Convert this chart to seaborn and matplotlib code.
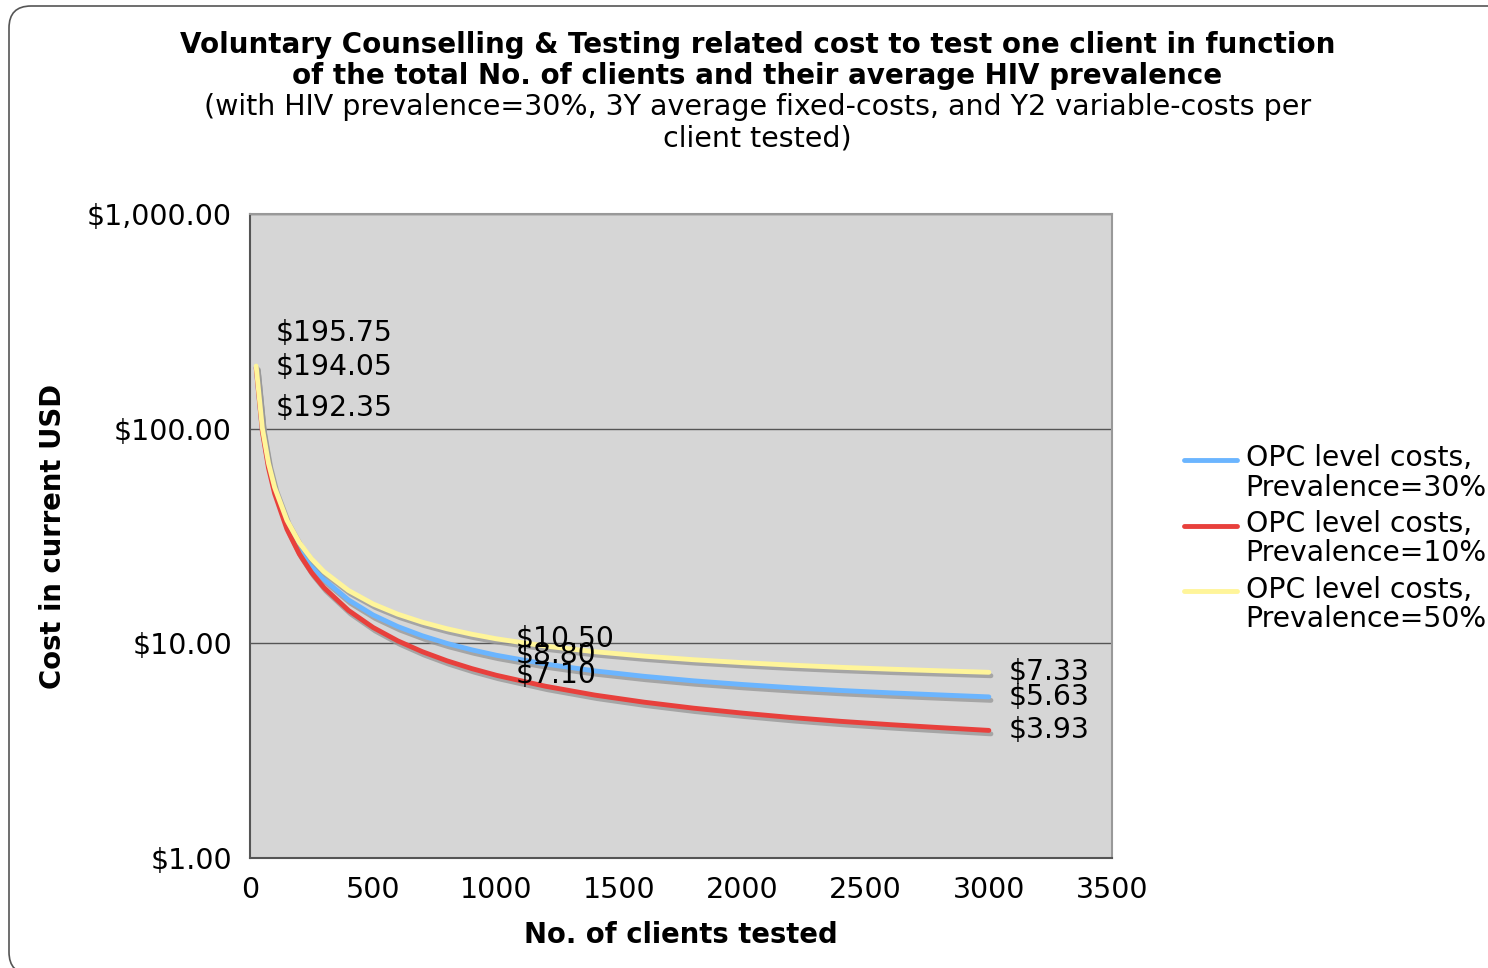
import numpy as np
import pandas as pd
import seaborn as sns
import matplotlib.pyplot as plt
import matplotlib.patheffects as pe
from matplotlib.patches import FancyBboxPatch
from matplotlib.transforms import IdentityTransform, Affine2D

# No. of clients tested
clients = [25, 50, 75, 100, 150, 200, 250, 300, 400, 500, 600, 700, 800, 900, 1000,
           1200, 1400, 1600, 1800, 2000, 2200, 2400, 2600, 2800, 3000]

# cost per client tested (USD)
cost_prev30 = [194.05, 99.05, 67.38, 51.55, 35.72, 27.80, 23.05, 19.88, 15.93, 13.55, 11.97, 10.84,
               9.99, 9.33, 8.80, 8.01, 7.44, 7.02, 6.69, 6.43, 6.21, 6.03, 5.88, 5.75, 5.63]
cost_prev10 = [192.35, 97.35, 65.68, 49.85, 34.02, 26.10, 21.35, 18.18, 14.23, 11.85, 10.27, 9.14,
               8.29, 7.63, 7.10, 6.31, 5.74, 5.32, 4.99, 4.73, 4.51, 4.33, 4.18, 4.05, 3.93]
cost_prev50 = [195.75, 100.75, 69.08, 53.25, 37.42, 29.50, 24.75, 21.58, 17.63, 15.25, 13.67, 12.54,
               11.69, 11.03, 10.50, 9.71, 9.14, 8.72, 8.39, 8.13, 7.91, 7.73, 7.58, 7.45, 7.33]

series_names = ['OPC level costs,\nPrevalence=30%', 'OPC level costs,\nPrevalence=10%',
                'OPC level costs,\nPrevalence=50%']
series_colors = ['#6BB5FF', '#E8403C', '#FFF59A']

df = pd.DataFrame({
    'clients': clients * 3,
    'cost': cost_prev30 + cost_prev10 + cost_prev50,
    'series': [series_names[0]] * len(clients) + [series_names[1]] * len(clients) + [series_names[2]] * len(clients),
})

sns.set_style('white')
plt.rcParams['font.family'] = ['DejaVu Sans']
plt.rcParams['text.color'] = 'black'
plt.rcParams['axes.labelcolor'] = 'black'
plt.rcParams['xtick.labelcolor'] = 'black'
plt.rcParams['ytick.labelcolor'] = 'black'

fig = plt.figure(figsize=(14.88, 9.68), dpi=100)
ax = fig.add_axes([250 / 1488, 1 - 858 / 968, 862 / 1488, 644 / 968])

# rounded frame around the whole slide (pixel coords, runs off right and bottom)
frame = FancyBboxPatch((9, -6), 1520, 968, boxstyle='round,pad=0,rounding_size=22',
                       transform=IdentityTransform(), facecolor='none', edgecolor='#555555',
                       linewidth=1.2, clip_on=False)
fig.patches.append(frame)

sns.lineplot(data=df, x='clients', y='cost', hue='series', palette=series_colors,
             linewidth=3.5, ax=ax, legend=True)
for line in ax.get_lines():
    line.set_path_effects([pe.SimpleLineShadow(offset=(1.5, -2.5), shadow_color='#999999', alpha=0.8),
                           pe.Normal()])

ax.set_yscale('log')
ax.set_ylim(1, 1000)
ax.set_xlim(0, 3500)
ax.set_facecolor('#D6D6D6')
ax.set_xticks(np.arange(0, 3501, 500))
ax.set_yticks([1, 10, 100, 1000])
ax.set_yticklabels(['$1.00', '$10.00', '$100.00', '$1,000.00'])
ax.minorticks_off()
ax.yaxis.grid(True, color='#555555', linewidth=1)
ax.tick_params(axis='both', labelsize=20.5, direction='out', length=7, width=1.2, color='#555555', pad=6)
for side in ['left', 'bottom']:
    ax.spines[side].set_color('#555555')
    ax.spines[side].set_linewidth(1.5)
for side in ['top', 'right']:
    ax.spines[side].set_color('#999999')
    ax.spines[side].set_linewidth(1.5)

ax.set_xlabel('No. of clients tested', fontsize=19.8, fontweight='bold', labelpad=12)
ax.set_ylabel('Cost in current USD', fontsize=19.8, fontweight='bold', labelpad=14)

# data labels at first, middle and last points
label_pts = [
    (0, cost_prev50, 24), (0, cost_prev30, 0), (0, cost_prev10, -29),
    (14, cost_prev50, 0), (14, cost_prev30, 0), (14, cost_prev10, 0),
    (24, cost_prev50, 0), (24, cost_prev30, 0), (24, cost_prev10, 0),
]
for idx, vals, dy in label_pts:
    ax.annotate(f'${vals[idx]:.2f}', xy=(clients[idx], vals[idx]), xytext=(14, dy),
                textcoords='offset points', fontsize=20.3, ha='left', va='center')

leg = ax.legend(loc='center left', bbox_to_anchor=(1.07, 0.496), frameon=False, fontsize=20.3,
                handlelength=1.9, labelspacing=0.3, handletextpad=0.3, borderaxespad=0)
for t in leg.get_texts():
    t.set_linespacing(1.05)
for h in leg.get_lines():
    h.set_linewidth(3.5)
    h.set_path_effects([])
    # put the legend key beside the first text line, as in the original
    h.set_transform(h.get_transform() + Affine2D().translate(0, 14))

fig.text(0.509, 1 - 45 / 968, 'Voluntary Counselling & Testing related cost to test one client in function',
         ha='center', va='center', fontsize=20, fontweight='bold')
fig.text(0.509, 1 - 76 / 968, 'of the total No. of clients and their average HIV prevalence',
         ha='center', va='center', fontsize=20, fontweight='bold')
fig.text(0.509, 1 - 107 / 968, '(with HIV prevalence=30%, 3Y average fixed-costs, and Y2 variable-costs per',
         ha='center', va='center', fontsize=20.5)
fig.text(0.509, 1 - 138 / 968, 'client tested)', ha='center', va='center', fontsize=20.5)

fig.savefig('out.png', dpi=100)
